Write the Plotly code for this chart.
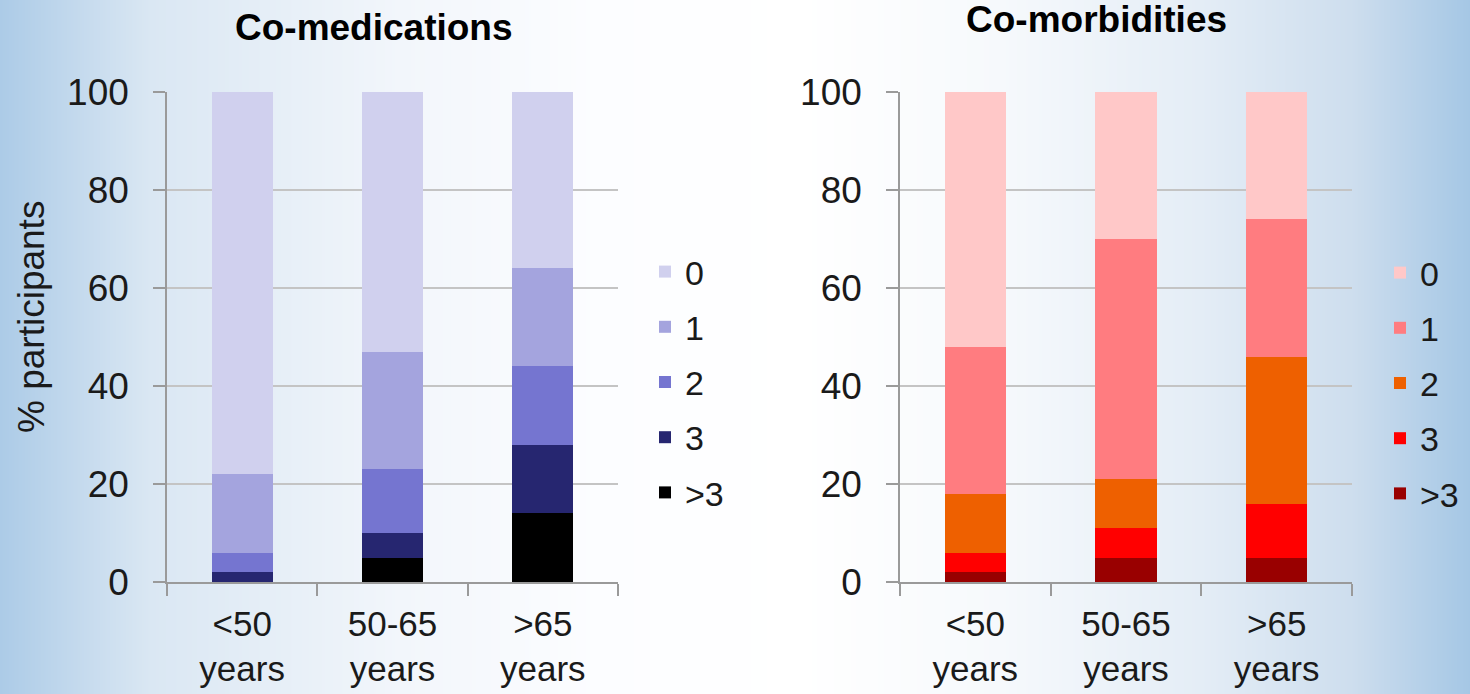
import zlib, struct, base64
import plotly.graph_objects as go

# ---------------- data ----------------
categories = ["<50<br>years", "50-65<br>years", ">65<br>years"]
levels = ["0", "1", "2", "3", ">3"]

med_0 = [78, 53, 36]
med_1 = [16, 24, 20]
med_2 = [4, 13, 16]
med_3 = [2, 5, 14]
med_gt3 = [0, 5, 14]

morb_0 = [52, 30, 26]
morb_1 = [30, 49, 28]
morb_2 = [12, 10, 30]
morb_3 = [4, 6, 11]
morb_gt3 = [2, 5, 5]

y_ticks = [0, 20, 40, 60, 80, 100]

# ---------------- style ----------------
W, H = 1470, 694
med_colors = ["#D0D0EE", "#A4A4DE", "#7575D0", "#262670", "#000000"]
morb_colors = ["#FFC8C8", "#FF7C80", "#EE6000", "#FF0000", "#990000"]
FONT = "Liberation Sans, Arial, sans-serif"


def px_x(p):
    return p / W


def px_y(p):
    return 1 - p / H


# background gradient (horizontal) as an inline PNG
stops = [(0, (172, 203, 231)), (150, (218, 231, 243)), (400, (242, 246, 251)),
         (600, (252, 253, 255)), (800, (255, 255, 255)), (1000, (246, 249, 252)),
         (1200, (228, 237, 246)), (1350, (206, 222, 238)), (1470, (165, 199, 229))]


def grad_color(x):
    for (x0, c0), (x1, c1) in zip(stops[:-1], stops[1:]):
        if x0 <= x <= x1:
            t = (x - x0) / (x1 - x0)
            return tuple(int(round(a + (b - a) * t)) for a, b in zip(c0, c1))
    return stops[-1][1]


def png_uri(pixels):
    raw = b"\x00" + bytes(c for p in pixels for c in p)

    def chunk(t, d):
        return struct.pack(">I", len(d)) + t + d + struct.pack(">I", zlib.crc32(t + d) & 0xffffffff)

    ihdr = struct.pack(">IIBBBBB", len(pixels), 1, 8, 2, 0, 0, 0)
    png = b"\x89PNG\r\n\x1a\n" + chunk(b"IHDR", ihdr) + chunk(b"IDAT", zlib.compress(raw)) + chunk(b"IEND", b"")
    return "data:image/png;base64," + base64.b64encode(png).decode()


bg_uri = png_uri([grad_color(x) for x in range(W)])

fig = go.Figure()

med_series = [med_gt3, med_3, med_2, med_1, med_0]
morb_series = [morb_gt3, morb_3, morb_2, morb_1, morb_0]
rev_levels = levels[::-1]
rev_med_colors = med_colors[::-1]
rev_morb_colors = morb_colors[::-1]
ranks = [5, 4, 3, 2, 1]

for name, vals, col, rk in zip(rev_levels, med_series, rev_med_colors, ranks):
    fig.add_trace(go.Bar(x=categories, y=vals, name=name, marker=dict(color=col, line=dict(width=0)),
                         xaxis="x", yaxis="y", legend="legend", legendgroup="m" + name, legendrank=rk))
for name, vals, col, rk in zip(rev_levels, morb_series, rev_morb_colors, ranks):
    fig.add_trace(go.Bar(x=categories, y=vals, name=name, marker=dict(color=col, line=dict(width=0)),
                         xaxis="x2", yaxis="y2", legend="legend2", legendgroup="c" + name, legendrank=rk))

top, bottom = 92, 582
xax = dict(type="category", showline=True, linecolor="#9A9A9A", linewidth=1.5,
           ticks="outside", tickson="boundaries", ticklen=12, tickcolor="#9A9A9A", tickwidth=1.5,
           showgrid=False, tickfont=dict(family=FONT, size=35, color="#1a1a1a"),
           ticklabelstandoff=10, fixedrange=True, automargin=False)
yax = dict(range=[0, 100], tickvals=y_ticks, showline=True, linecolor="#9A9A9A", linewidth=1.5,
           ticks="outside", ticklen=12, tickcolor="#9A9A9A", tickwidth=1.5,
           showgrid=True, gridcolor="#C4C4C4", gridwidth=1.5, zeroline=False,
           tickfont=dict(family=FONT, size=37, color="#1a1a1a"), ticklabelstandoff=17,
           domain=[px_y(bottom), px_y(top)], fixedrange=True, automargin=False)

leg = dict(font=dict(family=FONT, size=34, color="#1a1a1a"), bgcolor="rgba(0,0,0,0)",
           traceorder="grouped", tracegroupgap=8, xanchor="left", yanchor="top",
           borderwidth=0)

fig.update_layout(
    width=W, height=H,
    margin=dict(l=0, r=0, t=0, b=0, pad=0, autoexpand=False),
    paper_bgcolor="white", plot_bgcolor="rgba(0,0,0,0)",
    barmode="stack", bargap=0.593,
    showlegend=True,
    xaxis=dict(xax, domain=[px_x(167), px_x(618)], anchor="y"),
    yaxis=dict(yax, anchor="x"),
    xaxis2=dict(xax, domain=[px_x(900), px_x(1352)], anchor="y2"),
    yaxis2=dict(yax, anchor="x2"),
    legend=dict(leg, x=px_x(645), y=px_y(243)),
    legend2=dict(leg, x=px_x(1380), y=px_y(244)),
    images=[dict(source=bg_uri, xref="paper", yref="paper", x=0, y=1, sizex=1, sizey=1,
                 xanchor="left", yanchor="top", sizing="stretch", layer="below")],
    annotations=[
        dict(text="<b>Co-medications</b>", xref="paper", yref="paper", x=px_x(374), y=px_y(27),
             showarrow=False, xanchor="center", yanchor="middle",
             font=dict(family=FONT, size=37, color="black")),
        dict(text="<b>Co-morbidities</b>", xref="paper", yref="paper", x=px_x(1096), y=px_y(20),
             showarrow=False, xanchor="center", yanchor="middle",
             font=dict(family=FONT, size=37, color="black")),
        dict(text="% participants", xref="paper", yref="paper", x=px_x(31), y=px_y(317),
             showarrow=False, xanchor="center", yanchor="middle", textangle=-90,
             font=dict(family=FONT, size=37, color="#1a1a1a")),
    ],
)

fig.write_html("out.html", config={"displayModeBar": False},
               post_script="document.body.style.margin='0';document.body.style.overflow='hidden';")
